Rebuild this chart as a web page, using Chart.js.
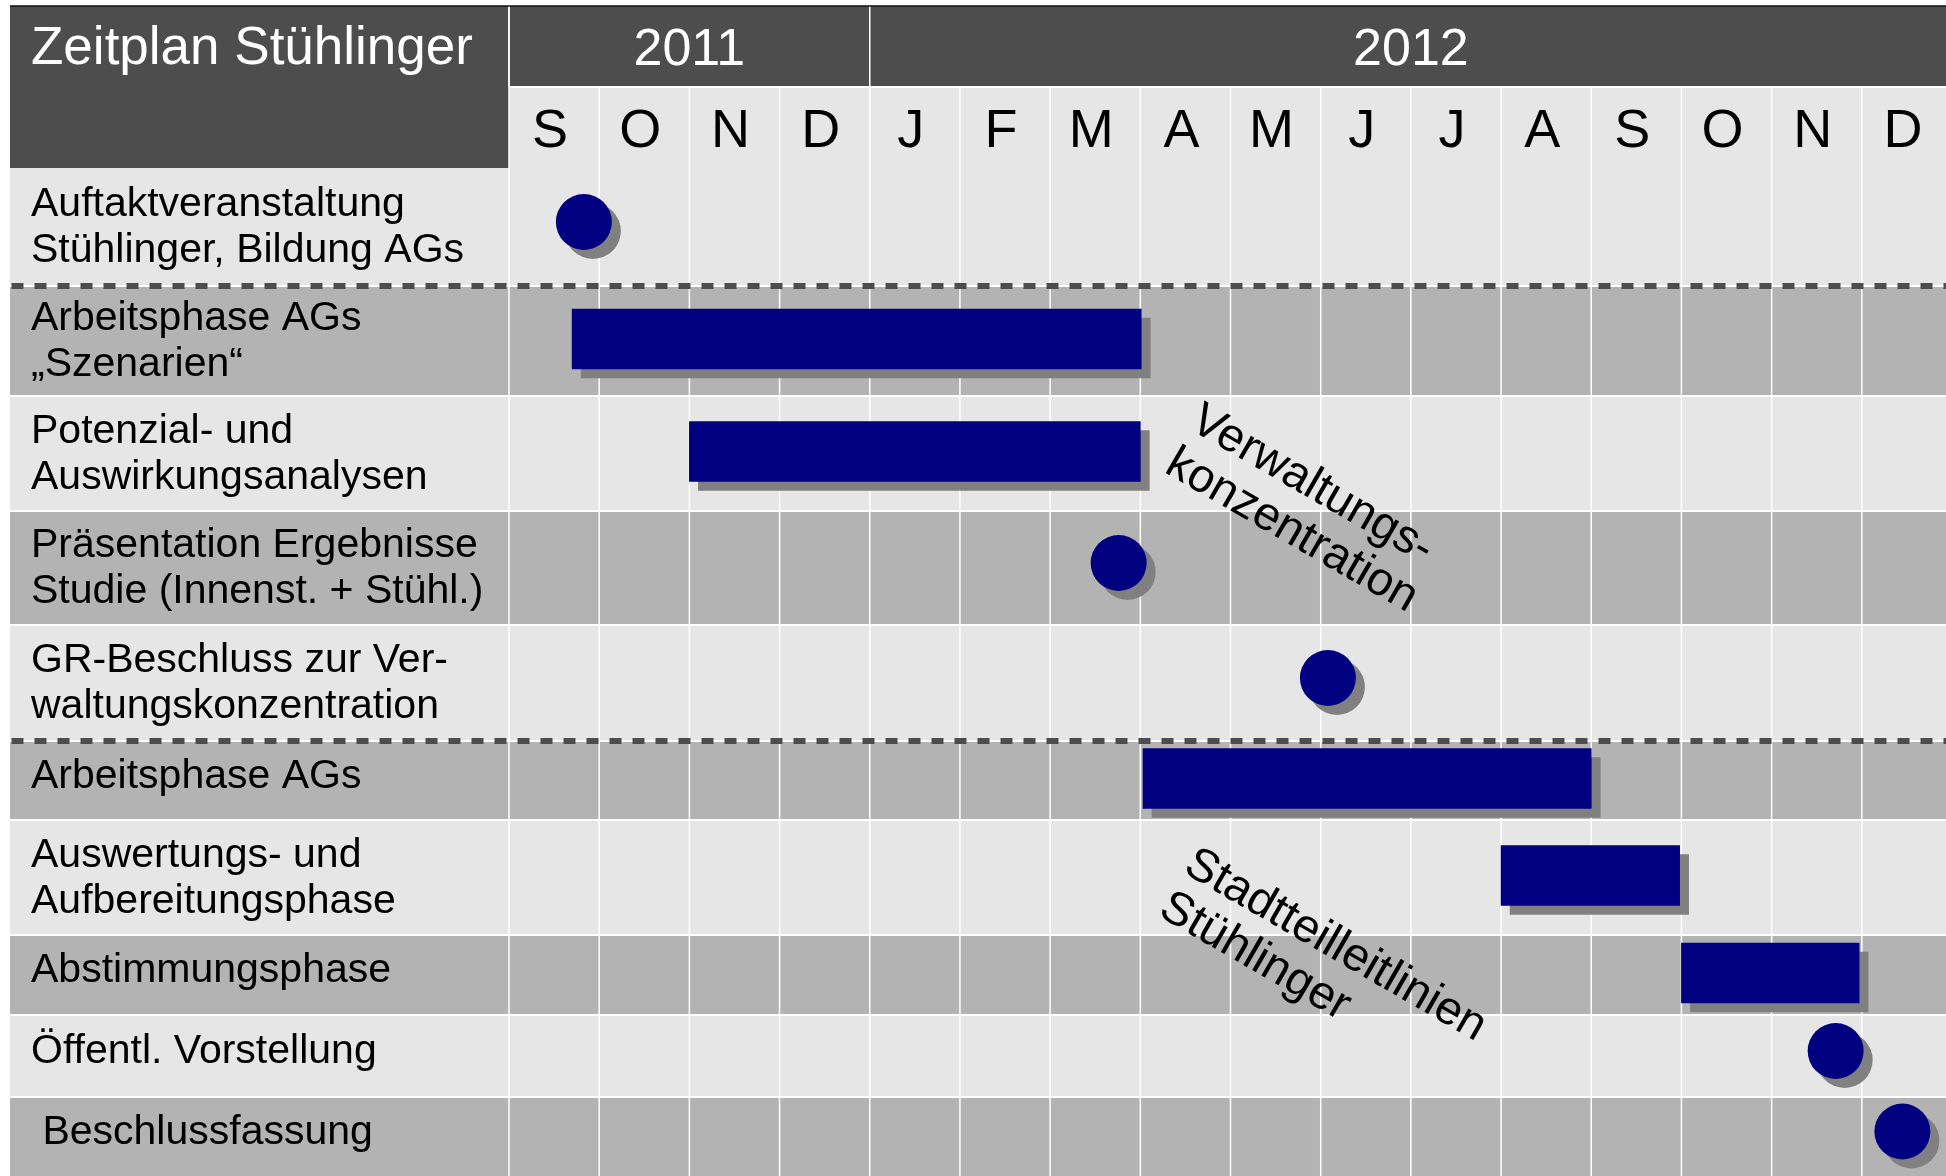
<!DOCTYPE html>
<html>
<head>
<meta charset="utf-8">
<script src="https://cdn.jsdelivr.net/npm/chart.js@4.4.0/dist/chart.umd.min.js"></script>
<style>
html, body { margin: 0; padding: 0; background: #fff; overflow: hidden; }
canvas { display: block; }
</style>
</head>
<body>
<canvas id="zeitplan" width="1952" height="1176"></canvas>
<script>
var months = ["S", "O", "N", "D", "J", "F", "M", "A", "M", "J", "J", "A", "S", "O", "N", "D"];
var years = ["2011", "2012"];
var yearFirstMonth = [0, 4];

var tasks = [
  "Auftaktveranstaltung\nStühlinger, Bildung AGs",
  "Arbeitsphase AGs\n„Szenarien“",
  "Potenzial- und\nAuswirkungsanalysen",
  "Präsentation Ergebnisse\nStudie (Innenst. + Stühl.)",
  "GR-Beschluss zur Ver-\nwaltungskonzentration",
  "Arbeitsphase AGs",
  "Auswertungs- und\nAufbereitungsphase",
  "Abstimmungsphase",
  "Öffentl. Vorstellung",
  " Beschlussfassung"
];

// phases (bars): task row, start and end in months counted from Sep 2011
var phaseRows = [1, 2, 5, 6, 7];
var phaseStart = [0.7, 2.0, 7.03, 11.0, 13.0];
var phaseEnd = [7.01, 7.0, 12.0, 12.98, 14.97];

// milestones (dots)
var milestoneRows = [0, 3, 4, 8, 9];
var milestoneMonth = [0.83, 6.76, 9.08, 14.71, 15.45];

// dashed separator above these rows
var sectionBreaks = [1, 5];

// slanted notes
var notes = ["Verwaltungs-\nkonzentration", "Stadtteilleitlinien\nStühlinger"];
var noteMonth = [7.53, 7.46];
var noteRow = [2.28, 6.45];

// layout
var rowHeights = [118, 110, 115, 114, 116, 79, 115, 80, 82, 79];
var C = { light: "#e6e6e6", mid: "#b3b3b3", head: "#4d4d4d", bar: "#000080", shadow: "#808080" };
var FONT = "'Liberation Sans', Arial, sans-serif";
var edgeLeft = 10, edgeTop = 6, yearBottom = 87;

var rowTop = [], acc = 0;
rowHeights.forEach(function (h) { rowTop.push(acc); acc += h; });
var yTotal = acc;
function rowMid(i) { return rowTop[i] + rowHeights[i] / 2; }
function rowAt(r) { var i = Math.floor(r); return rowTop[i] + (r - i) * rowHeights[i]; }

function hline(ctx, x0, x1, y) { ctx.beginPath(); ctx.moveTo(x0, y); ctx.lineTo(x1, y); ctx.stroke(); }
function vline(ctx, x, y0, y1) { ctx.beginPath(); ctx.moveTo(x, y0); ctx.lineTo(x, y1); ctx.stroke(); }

var gridPlugin = {
  id: "grid",
  beforeDraw: function (chart) {
    var ctx = chart.ctx, xs = chart.scales.x, ys = chart.scales.y, ca = chart.chartArea;
    var W = chart.width, H = chart.height;
    ctx.save();
    ctx.fillStyle = "#fff";
    ctx.fillRect(0, 0, W, H);

    tasks.forEach(function (t, i) {
      var y0 = ys.getPixelForValue(rowTop[i]);
      var y1 = ys.getPixelForValue(rowTop[i] + rowHeights[i]);
      ctx.fillStyle = i % 2 ? C.mid : C.light;
      ctx.fillRect(edgeLeft, y0, W - edgeLeft, y1 - y0);
    });

    // header blocks
    ctx.fillStyle = C.head;
    ctx.fillRect(edgeLeft, edgeTop, W - edgeLeft, yearBottom - edgeTop);
    ctx.fillRect(edgeLeft, edgeTop, ca.left - edgeLeft, ca.top - edgeTop);
    ctx.fillStyle = C.light;
    ctx.fillRect(ca.left, yearBottom, W - ca.left, ca.top - yearBottom);

    // white grid
    ctx.strokeStyle = "#fff";
    ctx.lineWidth = 1.5;
    for (var m = 0; m <= months.length; m++) {
      vline(ctx, xs.getPixelForValue(m), m === 0 ? edgeTop : yearBottom, H);
    }
    yearFirstMonth.forEach(function (m) { vline(ctx, xs.getPixelForValue(m), edgeTop, yearBottom); });
    ctx.lineWidth = 2;
    hline(ctx, ca.left, W, yearBottom);
    for (var i = 1; i < tasks.length; i++) {
      hline(ctx, edgeLeft, W, ys.getPixelForValue(rowTop[i]));
    }

    // top border
    ctx.strokeStyle = "#111";
    ctx.lineWidth = 1.5;
    hline(ctx, edgeLeft, W, edgeTop);

    // dashed section lines
    ctx.strokeStyle = C.head;
    ctx.lineWidth = 6;
    ctx.setLineDash([12, 11]);
    sectionBreaks.forEach(function (r) {
      hline(ctx, edgeLeft + 1.5, W, ys.getPixelForValue(rowTop[r]));
    });
    ctx.restore();
  },
  beforeDatasetsDraw: function (chart) {
    var ctx = chart.ctx;
    ctx.save();
    ctx.shadowColor = C.shadow;
    ctx.shadowOffsetX = 9;
    ctx.shadowOffsetY = 9;
    ctx.shadowBlur = 0;
  },
  afterDatasetsDraw: function (chart) {
    chart.ctx.restore();
  },
  afterDraw: function (chart) {
    var ctx = chart.ctx, xs = chart.scales.x, ys = chart.scales.y;
    ctx.save();
    ctx.textBaseline = "alphabetic";

    // title and years
    ctx.fillStyle = "#fff";
    ctx.textAlign = "left";
    ctx.font = "53px " + FONT;
    ctx.fillText("Zeitplan Stühlinger", 31, 64);
    ctx.font = "52px " + FONT;
    ctx.textAlign = "center";
    years.forEach(function (y, i) {
      var a = yearFirstMonth[i];
      var b = i + 1 < yearFirstMonth.length ? yearFirstMonth[i + 1] : months.length;
      ctx.fillText(y, xs.getPixelForValue((a + b) / 2), 65);
    });

    // month letters
    ctx.fillStyle = "#000";
    ctx.font = "54px " + FONT;
    months.forEach(function (m, i) {
      ctx.fillText(m, xs.getPixelForValue(i + 0.5) - 4, 147);
    });

    // task labels
    ctx.textAlign = "left";
    ctx.font = "41px " + FONT;
    tasks.forEach(function (t, i) {
      var lines = t.split("\n"), n = lines.length;
      var c = ys.getPixelForValue(rowMid(i)) + 7 + 5 * (n - 1);
      lines.forEach(function (s, j) {
        ctx.fillText(s, 31, c + (j - (n - 1) / 2) * 46);
      });
    });

    // slanted notes
    ctx.font = "47px " + FONT;
    notes.forEach(function (t, i) {
      ctx.save();
      ctx.translate(xs.getPixelForValue(noteMonth[i]), ys.getPixelForValue(rowAt(noteRow[i])));
      ctx.rotate(30 * Math.PI / 180);
      t.split("\n").forEach(function (s, j) { ctx.fillText(s, 0, j * 50); });
      ctx.restore();
    });
    ctx.restore();
  }
};

new Chart(document.getElementById("zeitplan"), {
  type: "bar",
  data: {
    datasets: [
      {
        type: "bar",
        indexAxis: "y",
        data: phaseRows.map(function (r, i) { return { x: [phaseStart[i], phaseEnd[i]], y: rowMid(r) - 2 }; }),
        backgroundColor: C.bar,
        borderWidth: 0,
        borderSkipped: false,
        barThickness: 60,
        clip: false
      },
      {
        type: "scatter",
        indexAxis: "x",
        data: milestoneRows.map(function (r, i) { return { x: milestoneMonth[i], y: rowMid(r) - 5 }; }),
        backgroundColor: C.bar,
        borderWidth: 0,
        pointRadius: 28,
        pointHoverRadius: 28,
        clip: false
      }
    ]
  },
  options: {
    indexAxis: "y",
    responsive: false,
    animation: false,
    devicePixelRatio: 1,
    events: [],
    layout: { autoPadding: false, padding: { left: 509, top: 168, right: 0, bottom: 0 } },
    scales: {
      x: { type: "linear", min: 0, max: months.length, offset: false, display: false },
      y: { type: "linear", min: 0, max: yTotal, reverse: true, offset: false, display: false }
    },
    plugins: {
      legend: { display: false },
      tooltip: { enabled: false }
    }
  },
  plugins: [gridPlugin]
});
</script>
</body>
</html>
